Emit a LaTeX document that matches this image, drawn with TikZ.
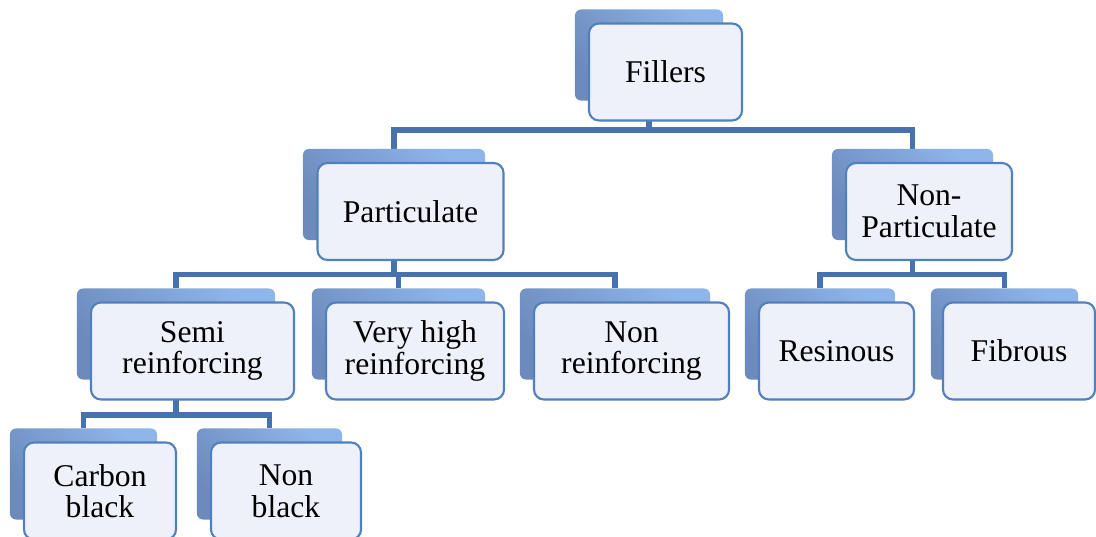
\documentclass[tikz,border=0pt]{standalone}
\usepackage{fontspec}
\setmainfont{Liberation Serif}
\usepackage{tikz}
\pgfdeclarelayer{background}
\pgfsetlayers{background,main}
\definecolor{wireblue}{RGB}{71,114,174}
\definecolor{edgeblue}{RGB}{80,128,190}
\definecolor{paleface}{RGB}{238,241,249}
\definecolor{shadelite}{RGB}{143,182,234}
\definecolor{shadedark}{RGB}{108,138,188}

\begin{document}
\begin{tikzpicture}[x = 0.025cm, y = -0.025cm,
    backbox/.style = {rectangle, rounded corners = 0.15cm, inner sep = 0,
                      top color = shadelite, bottom color = shadedark, shading angle = -50,
                      minimum height = 2.275cm},
    frontbox/.style = {rectangle, rounded corners = 0.25cm, inner sep = 0,
                       draw = edgeblue, line width = 1.5pt, fill = paleface,
                       minimum height = 2.425cm, align = center,
                       font = \fontsize{22.5}{22.5}\selectfont},
    wire/.style = {draw = wireblue, line width = 3.8pt}]
      \useasboundingbox (0, 0) rectangle (1096, 537);

      % top level
      \node [backbox, minimum width = 3.7cm] (fillers) at (649, 55){};
      \node [frontbox, minimum width = 3.825cm] (fillersf) at (665.5, 72){Fillers};

      % second level
      \node [backbox, minimum width = 4.55cm] (part) at (394, 194.5){};
      \node [frontbox, minimum width = 4.65cm] (partf) at (410.5, 211.5){Particulate};
      \node [backbox, minimum width = 4.025cm] (nonpart) at (912.5, 194.5){};
      \node [frontbox, minimum width = 4.15cm] (nonpartf) at (929, 211.5){Non-\\Particulate};

      % third level
      \node [backbox, minimum width = 4.95cm] (semi) at (176, 334){};
      \node [frontbox, minimum width = 5.075cm] (semif) at (192.5, 351){Semi\\reinforcing};
      \node [backbox, minimum width = 4.325cm] (vhigh) at (398.5, 334){};
      \node [frontbox, minimum width = 4.45cm] (vhighf) at (415, 351){Very high\\reinforcing};
      \node [backbox, minimum width = 4.75cm] (nonrein) at (615, 334){};
      \node [frontbox, minimum width = 4.875cm] (nonreinf) at (631.5, 351){Non\\reinforcing};
      \node [backbox, minimum width = 3.75cm] (resin) at (820, 334){};
      \node [frontbox, minimum width = 3.875cm] (resinf) at (836.5, 351){Resinous};
      \node [backbox, minimum width = 3.675cm] (fibrous) at (1004.5, 334){};
      \node [frontbox, minimum width = 3.8cm] (fibrousf) at (1019, 351){Fibrous};

      % fourth level
      \node [backbox, minimum width = 3.675cm] (carbon) at (83.5, 474){};
      \node [frontbox, minimum width = 3.8cm] (carbonf) at (100, 491){Carbon\\black};
      \node [backbox, minimum width = 3.625cm] (nonblack) at (269.5, 474){};
      \node [frontbox, minimum width = 3.75cm] (nonblackf) at (286, 491){Non\\black};

      \begin{pgfonlayer}{background}
      \draw [wire] (fillers) -- ++(0, 75) -| (part);
      \draw [wire] (fillers) -- ++(0, 75) -| (nonpart);
      \draw [wire] (part) -- ++(0, 80) -| (semi);
      \draw [wire] (part) -- ++(0, 80) -| (vhigh);
      \draw [wire] (part) -- ++(0, 80) -| (nonrein);
      \draw [wire] (nonpart) -- ++(0, 80) -| (resin);
      \draw [wire] (nonpart) -- ++(0, 80) -| (fibrous);
      \draw [wire] (semi) -- ++(0, 81) -| (carbon);
      \draw [wire] (semi) -- ++(0, 81) -| (nonblack);
      \end{pgfonlayer}

      \end{tikzpicture}
\end{document}
